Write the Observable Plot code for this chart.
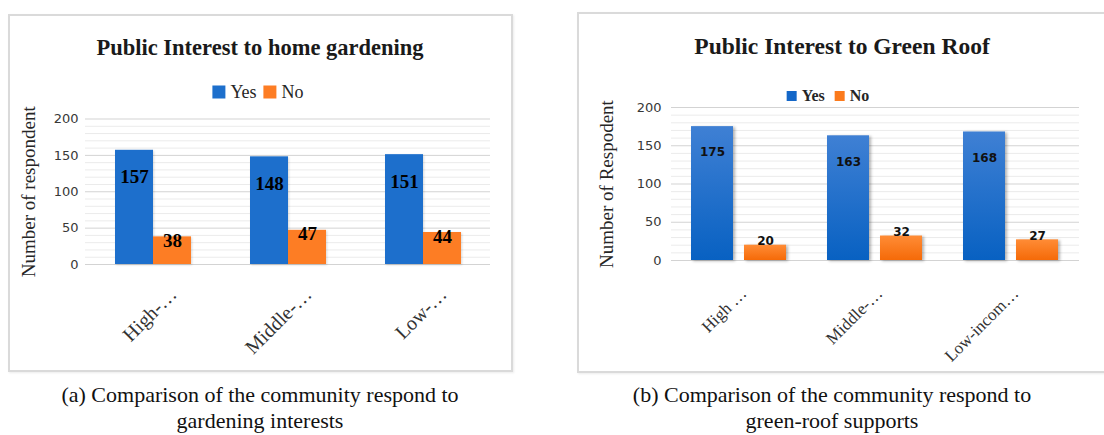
<!DOCTYPE html>
<html><head><meta charset="utf-8">
<script src="https://cdn.jsdelivr.net/npm/d3@7"></script>
<script src="https://cdn.jsdelivr.net/npm/@observablehq/plot@0.6"></script>
<style>
body{margin:0;background:#fff;}
#wrap{position:relative;width:1104px;height:435px;overflow:hidden;background:#fff;}
.panel{position:absolute;border:2px solid #dadada;box-sizing:border-box;box-shadow:1px 1px 2px rgba(0,0,0,0.08);background:#fff;}
.title{position:absolute;transform:translate(-50%,-50%);white-space:nowrap;font-family:"Liberation Serif",serif;font-weight:bold;color:#1a1a1a;}
.legend{position:absolute;transform:translate(-50%,-50%);display:flex;align-items:center;white-space:nowrap;font-family:"Liberation Serif",serif;color:#262626;}
.legend .sw{display:inline-block;}
.chart{position:absolute;}
.caption{position:absolute;transform:translateX(-50%);text-align:center;font-family:"Liberation Serif",serif;font-size:22px;line-height:26px;white-space:nowrap;color:#111;}
.chart svg g[aria-label="y-axis tick label"]{font-family:"DejaVu Sans",sans-serif;font-size:13px;fill:#383838;}
.chart svg g[aria-label="y-axis label"]{font-family:"Liberation Serif",serif;font-size:19px;fill:#262626;}
#chartA svg g[aria-label="bar"] rect{filter:drop-shadow(1px 1px 1px rgba(0,0,0,0.15));}
#chartB svg g[aria-label="bar"] rect{filter:drop-shadow(2px 1px 1.5px rgba(0,0,0,0.3));}
</style></head>
<body>
<div id="wrap"></div>
<script>
// ---- data ----
const categories = ["High", "Middle", "Low"];
const series = ["Yes", "No"];
const labelsA = ["High-…", "Middle-…", "Low-…"];
const labelsB = ["High …", "Middle-…", "Low-incom…"];
const yesA = [157, 148, 151];
const noA = [38, 47, 44];
const yesB = [175, 163, 168];
const noB = [20, 32, 27];
const yTicks = [0, 50, 100, 150, 200];
const yMinor = [10, 20, 30, 40, 60, 70, 80, 90, 110, 120, 130, 140, 160, 170, 180, 190];
const colorsA = ["#1d6fcc", "#fd7d24"];
const colorsB = ["#1467c8", "#fb7a1c"];
const titleA = "Public Interest to home gardening";
const titleB = "Public Interest to Green Roof";
const ylabelA = "Number of respondent";
const ylabelB = "Number of Respodent";
const captionA = ["(a) Comparison of the community respond to", "gardening interests"];
const captionB = ["(b) Comparison of the community respond to", "green-roof supports"];

function table(yes, no) {
  return categories.flatMap((c, i) => [
    {cat: c, series: "Yes", value: yes[i]},
    {cat: c, series: "No", value: no[i]}
  ]);
}

const wrap = document.getElementById("wrap");
function add(cls, css, html) {
  const d = document.createElement("div");
  d.className = cls;
  Object.assign(d.style, css);
  if (html != null) d.innerHTML = html;
  wrap.appendChild(d);
  return d;
}

function legend(cx, cy, colors, sw, fs, gap, weight) {
  const d = add("legend", {left: cx + "px", top: cy + "px", fontSize: fs + "px", fontWeight: weight});
  series.forEach((s, i) => {
    const b = document.createElement("span");
    b.className = "sw";
    Object.assign(b.style, {width: sw + "px", height: sw + "px", background: colors[i], marginRight: "5px", marginLeft: i ? gap + "px" : "0"});
    const t = document.createElement("span");
    t.textContent = s;
    d.appendChild(b); d.appendChild(t);
  });
}

function chart(cfg) {
  const rows = table(cfg.yes, cfg.no);
  const svg = Plot.plot({
    width: cfg.width, height: cfg.height,
    marginLeft: cfg.ml, marginRight: cfg.mr, marginTop: cfg.mt, marginBottom: cfg.mb,
    style: {background: "transparent", overflow: "visible"},
    fx: {domain: categories, padding: 0, axis: null, label: null},
    x: {domain: series, paddingInner: cfg.pi, paddingOuter: cfg.po, axis: null},
    y: {domain: [0, 200]},
    color: {domain: series, range: cfg.fills},
    marks: [
      Plot.gridY(yMinor, {stroke: "#ebebeb", strokeOpacity: 1}),
      Plot.gridY(yTicks, {stroke: "#d3d3d3", strokeOpacity: 1}),
      Plot.barY(rows, {fx: "cat", x: "series", y: "value", fill: "series"}),
      Plot.text(rows.filter(d => d.series === "Yes"), {fx: "cat", x: "series", y: "value", text: "value", dy: cfg.yesDy, ...cfg.valueFont}),
      Plot.text(rows.filter(d => d.series === "No"), {fx: "cat", x: "series", y: "value", text: "value", dy: cfg.noDy, ...cfg.valueFont}),
      Plot.text(categories, {fx: d => d, text: (d, i) => cfg.labels[i], frameAnchor: "bottom", rotate: -45, textAnchor: "end", lineAnchor: "bottom", dx: cfg.ldx, dy: cfg.ldy, fontFamily: "Liberation Serif", fontSize: cfg.lfs, fill: "#333"}),
      Plot.axisY({ticks: yTicks, tickSize: 0, tickPadding: cfg.tp, label: cfg.ylabel, labelAnchor: "center", labelOffset: cfg.lo, labelArrow: "none"})
    ]
  });
  if (cfg.grad) {
    const defs = d3.select(svg).insert("defs", ":first-child");
    cfg.grad.forEach(g => {
      const lg = defs.append("linearGradient").attr("id", g.id).attr("x1", 0).attr("y1", 0).attr("x2", 0).attr("y2", 1);
      lg.append("stop").attr("offset", "0%").attr("stop-color", g.top);
      lg.append("stop").attr("offset", "100%").attr("stop-color", g.bottom);
    });
  }
  const d = add("chart", {left: cfg.left + "px", top: cfg.top + "px"});
  d.id = cfg.id;
  d.appendChild(svg);
}

// panels
add("panel", {left: "8px", top: "14px", width: "505px", height: "358px"});
add("panel", {left: "577px", top: "12px", width: "540px", height: "361px"});

// titles
add("title", {left: "260px", top: "48px", fontSize: "22.5px"}).textContent = titleA;
add("title", {left: "842px", top: "46px", fontSize: "23.5px"}).textContent = titleB;

// legends
legend(258, 92, colorsA, 13, 18, 7, "normal");
legend(828, 96, colorsB, 10, 16, 10, "bold");

chart({
  id: "chartA", left: 10, top: 100, width: 500, height: 265,
  ml: 75, mr: 20, mt: 18.5, mb: 101,
  pi: 0, po: 0.75,
  yes: yesA, no: noA, fills: colorsA,
  yesDy: 27, noDy: 4,
  valueFont: {fontFamily: "Liberation Serif", fontWeight: "bold", fontSize: 19, fill: "#000"},
  labels: labelsA, ldx: 25, ldy: 31, lfs: 20,
  tp: 7, ylabel: ylabelA, lo: 64
});

chart({
  id: "chartB", left: 580, top: 100, width: 520, height: 268,
  ml: 90, mr: 20, mt: 7, mb: 108,
  pi: 0.2, po: 0.38,
  yes: yesB, no: noB, fills: ["url(#gYes)", "url(#gNo)"],
  grad: [{id: "gYes", top: "#3f80d4", bottom: "#0861c2"}, {id: "gNo", top: "#ff8c36", bottom: "#f56a08"}],
  yesDy: 26, noDy: -4,
  valueFont: {fontFamily: "DejaVu Sans", fontWeight: "bold", fontSize: 12, fill: "#111"},
  labels: labelsB, ldx: 8, ldy: 34, lfs: 17,
  tp: 10, ylabel: ylabelB, lo: 72
});

// captions
add("caption", {left: "260px", top: "382px"}, captionA.join("<br>"));
add("caption", {left: "832px", top: "382px"}, captionB.join("<br>"));
</script>
</body></html>
